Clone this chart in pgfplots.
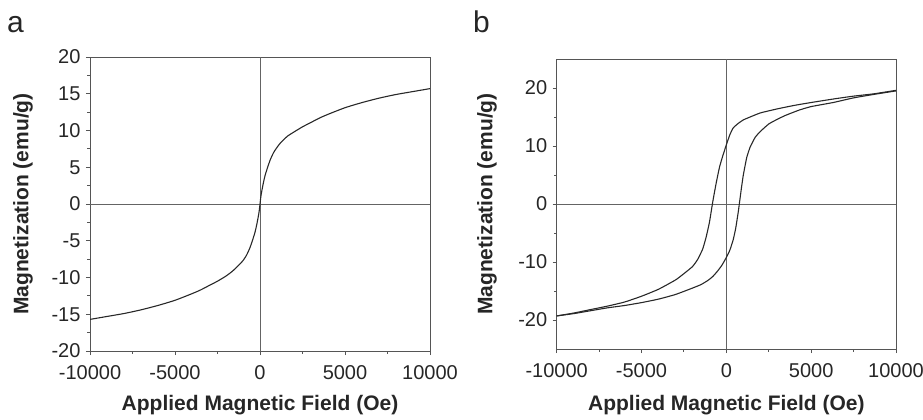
\documentclass[border=0pt]{standalone}
\usepackage{fontspec}
\setmainfont{Liberation Sans}
\usepackage{pgfplots}
\pgfplotsset{compat=1.18}
\definecolor{axgray}{RGB}{85,85,85}
\definecolor{zgray}{RGB}{100,100,100}
\definecolor{curve}{RGB}{40,40,40}
\pgfplotstableread{
H M
-10000 -15.7
-9000 -15.3
-8000 -14.9
-7000 -14.4
-6000 -13.8
-5000 -13.1
-4000 -12.2
-3500 -11.7
-3000 -11.1
-2500 -10.5
-2000 -9.8
-1600 -9.1
-1200 -8.2
-1000 -7.7
-800 -7.0
-600 -6.0
-450 -5.0
-300 -3.9
-200 -2.9
-100 -1.7
-50 -1.0
0 0
50 1.0
100 1.7
200 2.9
300 3.9
450 5.0
600 6.0
800 7.0
1000 7.7
1200 8.3
1600 9.2
2000 9.8
2500 10.5
3000 11.1
3500 11.7
4000 12.2
5000 13.1
6000 13.8
7000 14.4
8000 14.9
9000 15.3
10000 15.7
}\curveA
\pgfplotstableread{
H M
10000 19.6
8700 19.0
7500 18.6
6300 18.1
5000 17.5
4000 17.0
3000 16.4
2000 15.7
1400 15.0
1000 14.5
700 13.9
400 13.1
200 11.9
0 10.2
-200 8.4
-400 6.4
-600 3.6
-800 0.4
-1000 -3.2
-1200 -5.8
-1400 -7.8
-1700 -9.6
-2000 -10.8
-2500 -12.0
-3000 -13.1
-4000 -14.7
-5000 -15.9
-6000 -16.9
-7000 -17.6
-8000 -18.2
-9000 -18.8
-10000 -19.3
}\upperB
\pgfplotstableread{
H M
-10000 -19.3
-9000 -18.9
-8000 -18.4
-7000 -17.9
-6000 -17.5
-5000 -17.0
-4000 -16.4
-3000 -15.6
-2000 -14.5
-1500 -13.9
-1100 -13.2
-800 -12.5
-500 -11.5
-250 -10.5
0 -9.2
200 -8.0
400 -6.2
550 -4.2
700 -1.4
800 0.8
900 3.0
1000 5.0
1200 8.0
1400 9.8
1700 11.5
2000 12.5
2500 13.8
3000 14.6
3500 15.3
4300 16.2
5000 16.8
6300 17.5
7500 18.3
8700 18.9
10000 19.5
}\lowerB
\pgfplotsset{
  magax/.style={
    scale only axis,
    axis line style={axgray, line width=0.9pt},
    tick style={axgray, line width=0.9pt},
    major tick length=4pt,
    minor tick length=2.5pt,
    tick align=outside,
    xtick pos=left, ytick pos=left,
    minor x tick num=1,
    minor y tick num=1,
    xmin=-10000, xmax=10000,
    xtick={-10000,-5000,0,5000,10000},
    xticklabels={-10000,-5000,0,5000,10000},
    scaled x ticks=false,
    ticklabel style={font=\fontsize{20}{22}\selectfont, text=black!85},
    xticklabel style={yshift=-7pt},
    yticklabel style={xshift=-2pt},
    label style={font=\bfseries\fontsize{21}{24}\selectfont, text=black!85},
    xlabel={Applied Magnetic Field (Oe)},
    ylabel={Magnetization (emu/g)},
    clip=true,
  }
}
\begin{document}
\begin{tikzpicture}
\path[use as bounding box] (0pt,0pt) rectangle (923pt,-420pt);
\node[anchor=base west, inner sep=0pt, font=\fontsize{30}{32}\selectfont, text=black!85] at (7pt,-33pt) {a};
\node[anchor=base west, inner sep=0pt, font=\fontsize{30}{32}\selectfont, text=black!85] at (473pt,-33pt) {b};
\begin{axis}[magax,
  at={(90pt,-351pt)}, anchor=south west,
  width=340pt, height=294pt,
  ymin=-20, ymax=20,
  ytick={-20,-15,-10,-5,0,5,10,15,20},
  yticklabels={-20,-15,-10,-5,0,5,10,15,20},
  xlabel style={at={(axis description cs:0.5,-0.1837)}, anchor=center},
  ylabel style={at={(axis description cs:-0.197,0.5)}, anchor=center},
]
\addplot[zgray, line width=0.9pt] coordinates {(-10000,0) (10000,0)};
\addplot[zgray, line width=0.9pt] coordinates {(0,-20) (0,20)};
\addplot[curve, line width=1.1pt, smooth, tension=0.4] table[x=H,y=M] {\curveA};
\end{axis}
\begin{axis}[magax,
  at={(556.7pt,-349pt)}, anchor=south west,
  width=339.3pt, height=290pt,
  ymin=-25, ymax=25,
  ytick={-20,-10,0,10,20},
  yticklabels={-20,-10,0,10,20},
  xlabel style={at={(axis description cs:0.5,-0.193)}, anchor=center},
  ylabel style={at={(axis description cs:-0.2054,0.5)}, anchor=center},
]
\addplot[zgray, line width=0.9pt] coordinates {(-10000,0) (10000,0)};
\addplot[zgray, line width=0.9pt] coordinates {(0,-25) (0,25)};
\addplot[curve, line width=1.1pt, smooth, tension=0.3] table[x=H,y=M] {\upperB};
\addplot[curve, line width=1.1pt, smooth, tension=0.3] table[x=H,y=M] {\lowerB};
\end{axis}
\end{tikzpicture}
\end{document}
